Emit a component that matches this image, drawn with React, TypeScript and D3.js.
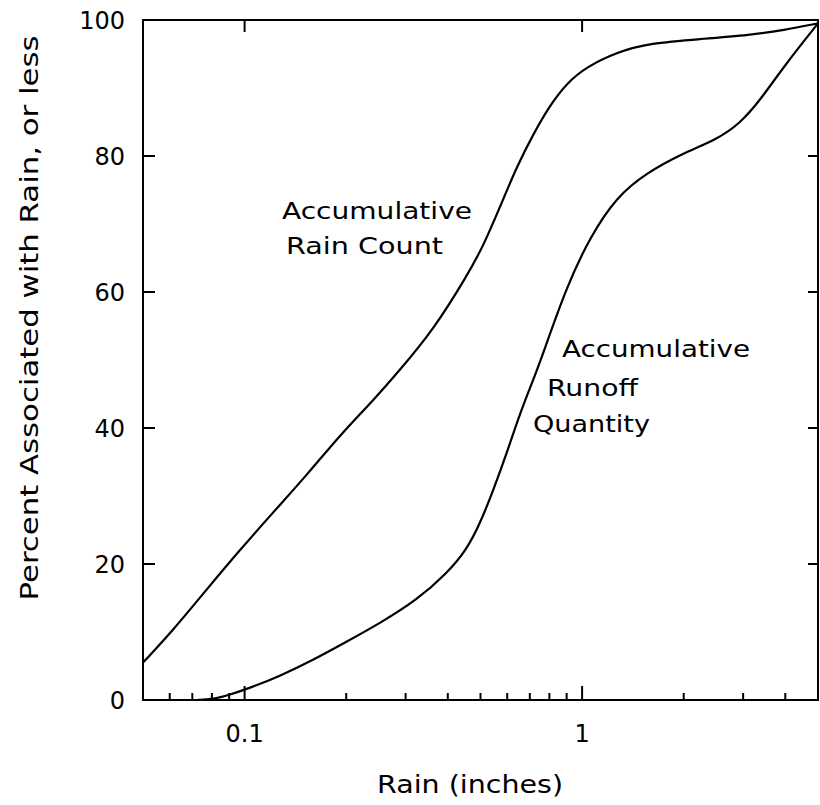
import React, { useRef, useEffect } from 'react';
import * as d3 from 'd3';

// rain depth (inches) vs percent
const countRain = [0.05, 0.0615, 0.077, 0.097, 0.122, 0.153, 0.192, 0.241, 0.288, 0.362, 0.455, 0.509, 0.571, 0.64, 0.718, 0.804, 0.9, 1.03, 1.27, 1.59, 2.24, 3.16, 3.95, 5.0];
const countPct = [5.5, 10.3, 16.2, 22.1, 27.7, 33.1, 39, 44.1, 48.5, 54.4, 62.3, 66.7, 72.5, 78.4, 83.3, 87.5, 90.7, 93.1, 95.3, 96.6, 97.2, 97.8, 98.5, 99.5];

const runoffRain = [0.072, 0.0807, 0.0905, 0.1015, 0.127, 0.16, 0.201, 0.252, 0.324, 0.397, 0.455, 0.499, 0.546, 0.598, 0.655, 0.717, 0.767, 0.9, 1.056, 1.266, 1.55, 1.99, 2.5, 2.94, 3.37, 3.95, 5.0];
const runoffPct = [0, 0.1, 0.8, 1.6, 3.5, 5.9, 8.6, 11.3, 14.7, 18.6, 22.1, 26, 30.9, 36.3, 42.2, 47.1, 51, 60.8, 68.1, 74, 77.5, 80.4, 82.4, 84.8, 88.2, 93.1, 99.5];

const yTicks = [0, 20, 40, 60, 80, 100];
const xMajor = [0.1, 1];
const xMinor = [0.06, 0.07, 0.08, 0.09, 0.2, 0.3, 0.4, 0.5, 0.6, 0.7, 0.8, 0.9, 2, 3, 4];

function Chart() {
  const ref = useRef<SVGSVGElement>(null);

  useEffect(() => {
    const svg = d3.select(ref.current);
    svg.selectAll('*').remove();

    const left = 143, right = 818, top = 20, bottom = 700;
    const font = 'DejaVu Sans, sans-serif';

    const x = d3.scaleLog().domain([0.05, 5]).range([left, right]);
    const y = d3.scaleLinear().domain([0, 100]).range([bottom, top]);

    const g = svg.append('g');

    // frame
    g.append('rect')
      .attr('x', left).attr('y', top)
      .attr('width', right - left).attr('height', bottom - top)
      .attr('fill', 'none').attr('stroke', '#000').attr('stroke-width', 2);

    // bottom ticks (inward)
    g.selectAll('.xmin').data(xMinor).enter().append('line')
      .attr('x1', (d) => x(d)).attr('x2', (d) => x(d))
      .attr('y1', bottom).attr('y2', bottom - 7)
      .attr('stroke', '#000').attr('stroke-width', 2);
    g.selectAll('.xmaj').data(xMajor).enter().append('line')
      .attr('x1', (d) => x(d)).attr('x2', (d) => x(d))
      .attr('y1', bottom).attr('y2', bottom - 14)
      .attr('stroke', '#000').attr('stroke-width', 2);
    // top ticks
    g.selectAll('.xtop').data(xMajor).enter().append('line')
      .attr('x1', (d) => x(d)).attr('x2', (d) => x(d))
      .attr('y1', top).attr('y2', top + 12)
      .attr('stroke', '#000').attr('stroke-width', 2);

    g.selectAll('.xlab').data(xMajor).enter().append('text')
      .attr('x', (d) => x(d)).attr('y', 742)
      .attr('text-anchor', 'middle')
      .attr('font-family', font).attr('font-size', 24)
      .text((d) => String(d));

    // y ticks
    const inner = yTicks.filter((d) => d > 0 && d < 100);
    g.selectAll('.yl').data(inner).enter().append('line')
      .attr('x1', left).attr('x2', left + 12)
      .attr('y1', (d) => y(d)).attr('y2', (d) => y(d))
      .attr('stroke', '#000').attr('stroke-width', 2);
    g.selectAll('.yr').data(inner).enter().append('line')
      .attr('x1', right).attr('x2', right - 10)
      .attr('y1', (d) => y(d)).attr('y2', (d) => y(d))
      .attr('stroke', '#000').attr('stroke-width', 2);
    g.selectAll('.ylab').data(yTicks).enter().append('text')
      .attr('x', 125).attr('y', (d) => y(d))
      .attr('dy', '0.36em')
      .attr('text-anchor', 'end')
      .attr('font-family', font).attr('font-size', 24)
      .text((d) => String(d));

    // curves
    const line = d3.line<[number, number]>()
      .x((d) => x(d[0]))
      .y((d) => y(d[1]))
      .curve(d3.curveBasis);

    const count = countRain.map((r, i) => [r, countPct[i]] as [number, number]);
    const runoff = runoffRain.map((r, i) => [r, runoffPct[i]] as [number, number]);

    g.append('path').attr('d', line(count))
      .attr('fill', 'none').attr('stroke', '#000').attr('stroke-width', 2.2);
    g.append('path').attr('d', line(runoff))
      .attr('fill', 'none').attr('stroke', '#000').attr('stroke-width', 2.2);

    // annotations
    const notes = [
      { t: 'Accumulative', x: 282, y: 219, w: 190 },
      { t: 'Rain Count', x: 286, y: 254, w: 157 },
      { t: 'Accumulative', x: 562, y: 357, w: 188 },
      { t: 'Runoff', x: 547, y: 396, w: 91 },
      { t: 'Quantity', x: 533, y: 432, w: 117 },
    ];
    g.selectAll('.note').data(notes).enter().append('text')
      .attr('x', (d) => d.x).attr('y', (d) => d.y)
      .attr('textLength', (d) => d.w).attr('lengthAdjust', 'spacingAndGlyphs')
      .attr('font-family', font).attr('font-size', 23)
      .text((d) => d.t);

    // axis titles
    g.append('text')
      .attr('x', 377).attr('y', 793)
      .attr('textLength', 186).attr('lengthAdjust', 'spacingAndGlyphs')
      .attr('font-family', font).attr('font-size', 25)
      .text('Rain (inches)');

    g.append('text')
      .attr('transform', 'translate(38,318) rotate(-90)')
      .attr('text-anchor', 'middle')
      .attr('textLength', 565).attr('lengthAdjust', 'spacingAndGlyphs')
      .attr('font-family', font).attr('font-size', 24)
      .text('Percent Associated with Rain, or less');
  }, []);

  return (
    <svg ref={ref} width={820} height={805}
      style={{ position: 'absolute', left: 0, top: 0, background: '#fff' }} />
  );
}

export default function App() {
  return <Chart />;
}
